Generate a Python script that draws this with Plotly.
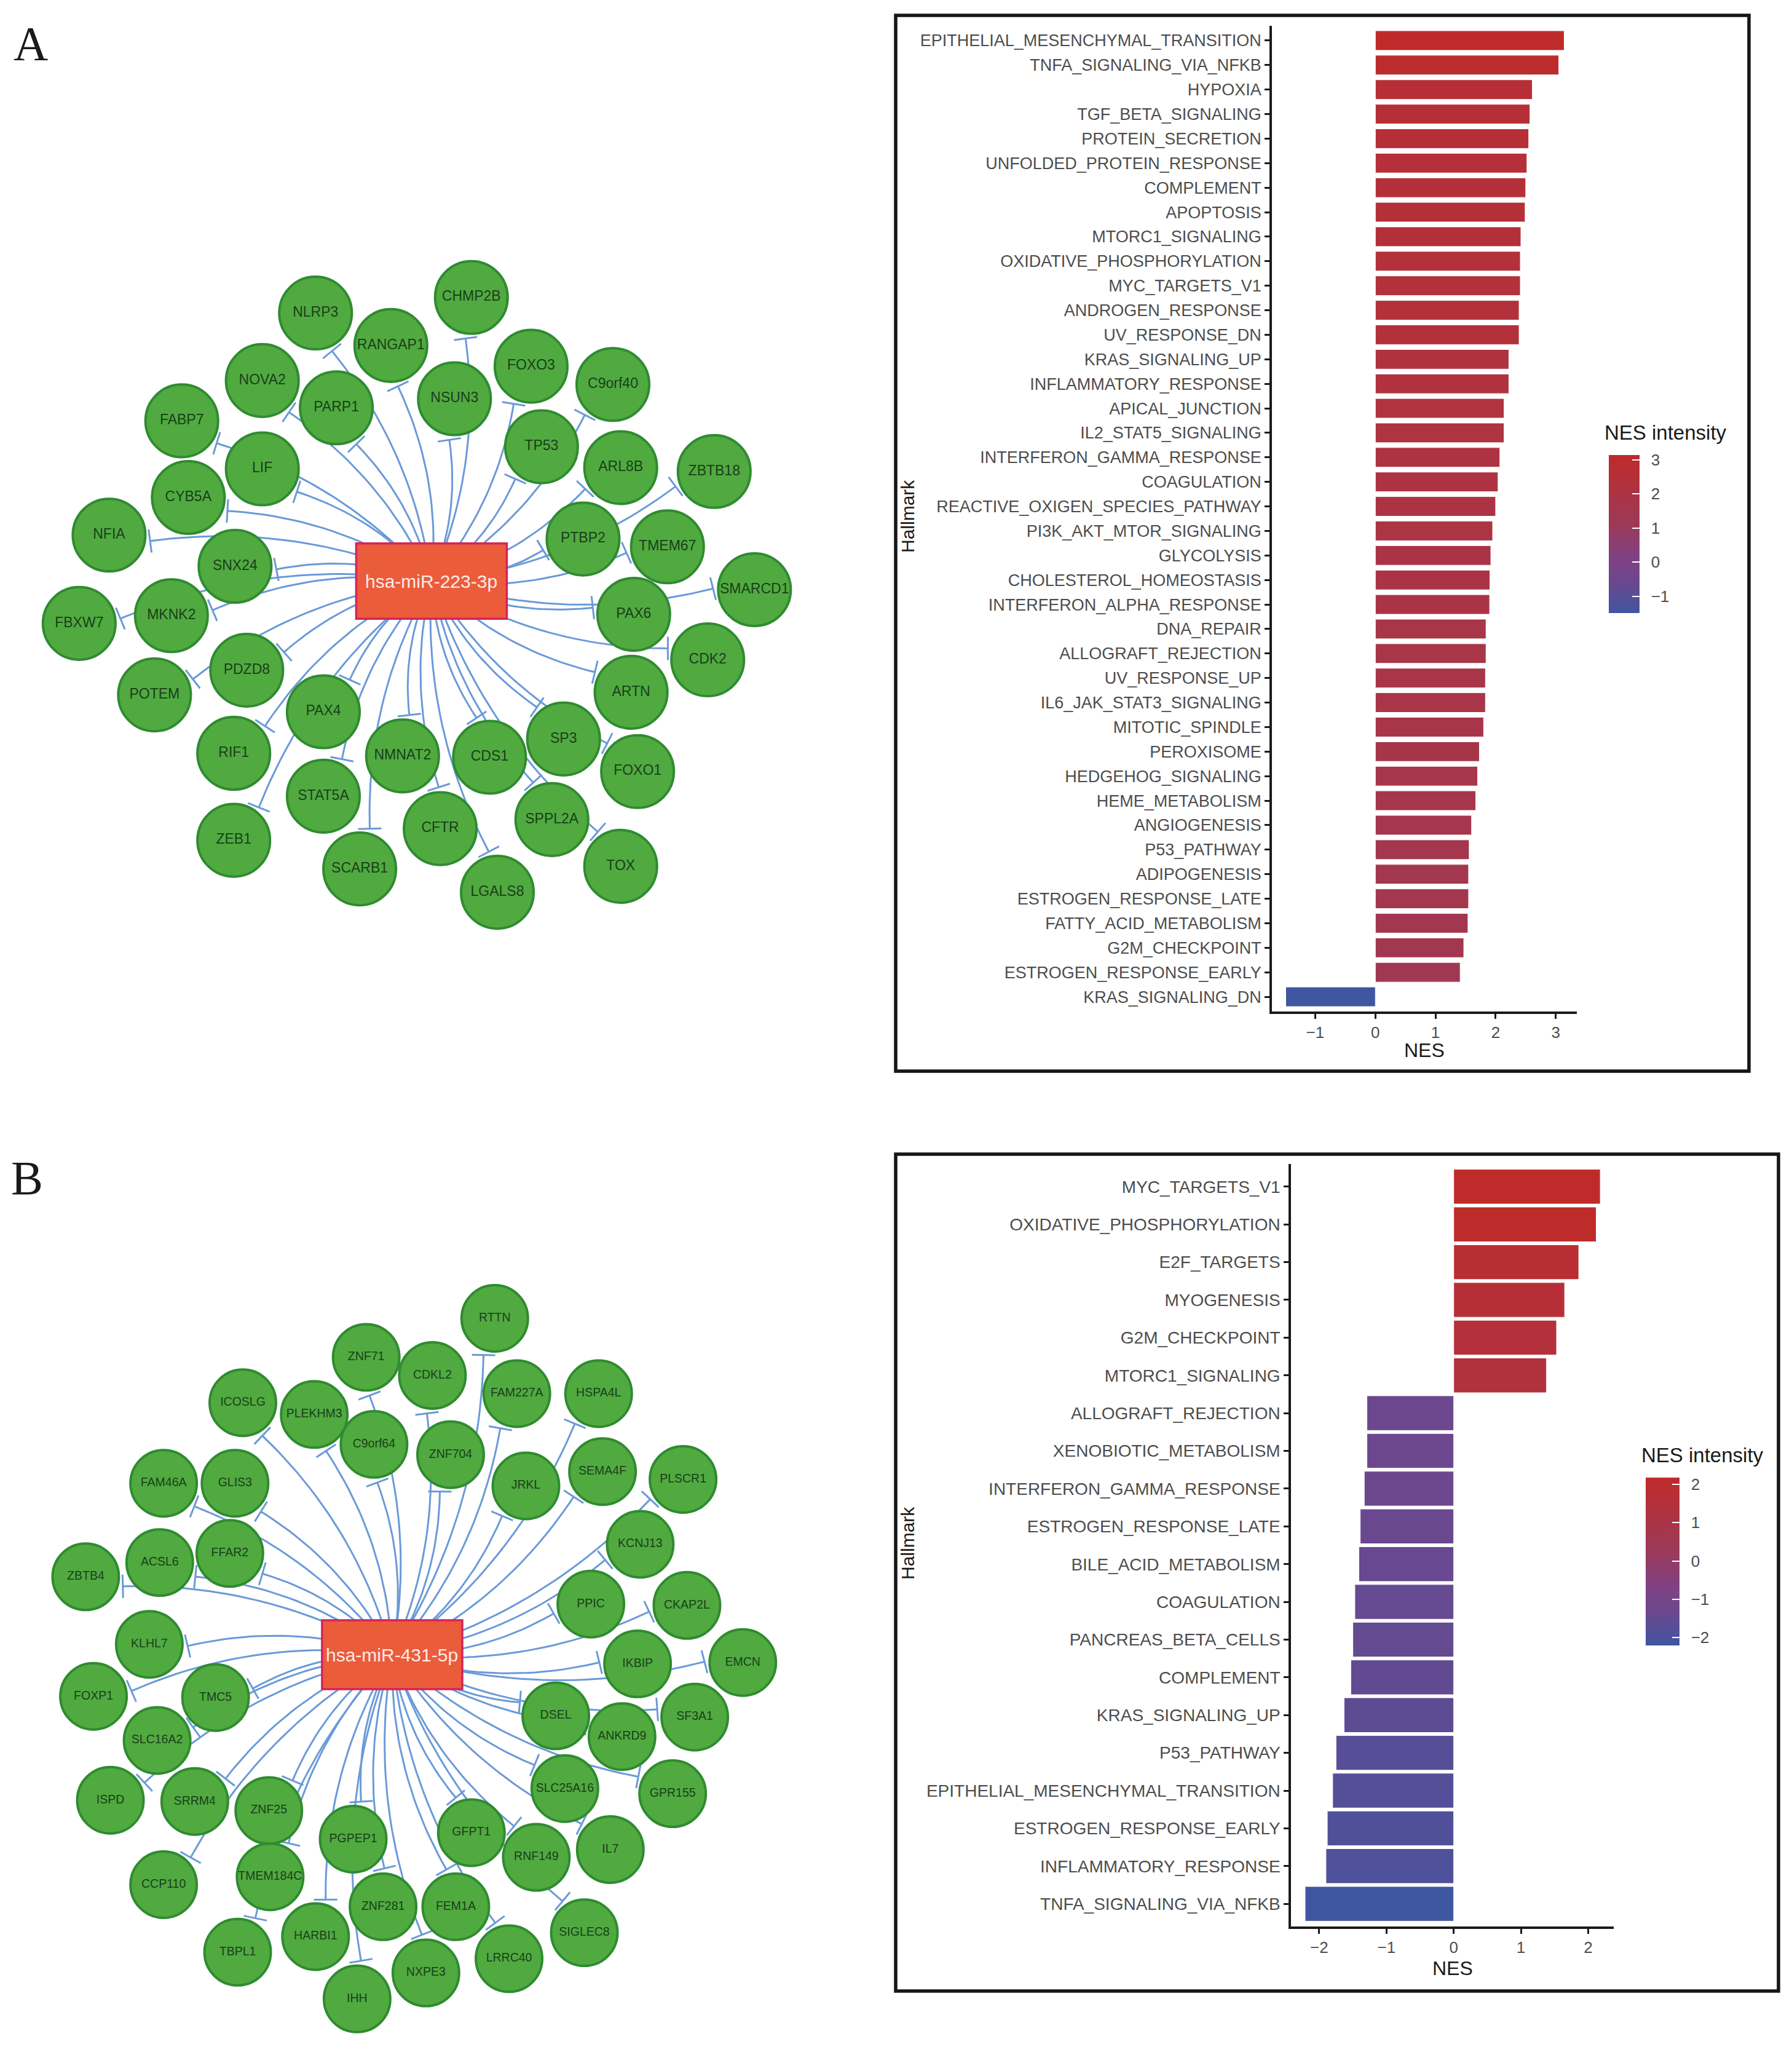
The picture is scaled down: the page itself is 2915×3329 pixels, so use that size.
import numpy as np
import plotly.graph_objects as go

W, H = 2915, 3329
UNIT = W / 1380.0  # network layout units -> pixels

# ── Network A : hsa-miR-223-3p ───────────────────────────
hub_a = "hsa-miR-223-3p"
hub_a_xy = (332.3, 447.4)
genes_a = ["NLRP3", "CHMP2B", "RANGAP1", "FOXO3", "C9orf40", "NOVA2", "PARP1", "NSUN3",
           "FABP7", "TP53", "ARL8B", "ZBTB18", "LIF", "CYB5A", "NFIA", "SNX24", "PTBP2",
           "TMEM67", "SMARCD1", "FBXW7", "MKNK2", "PAX6", "CDK2", "PDZD8", "POTEM", "ARTN",
           "PAX4", "RIF1", "NMNAT2", "CDS1", "SP3", "FOXO1", "STAT5A", "CFTR", "SPPL2A",
           "ZEB1", "SCARB1", "LGALS8", "TOX"]
gx_a = [243, 363, 301, 409, 472, 202, 259, 350, 140, 417, 478, 550, 202, 145, 84, 181, 449,
        514, 581, 61, 132, 488, 545, 190, 119, 486, 249, 180, 310, 377, 434, 491, 249, 339,
        425, 180, 277, 383, 478]
gy_a = [241, 229, 266, 282, 296, 293, 314, 307, 324, 344, 360, 363, 361, 383, 412, 436, 415,
        421, 454, 480, 474, 473, 508, 516, 535, 533, 548, 580, 582, 583, 569, 594, 613, 638,
        631, 647, 669, 687, 667]

# ── Network B : hsa-miR-431-5p ───────────────────────────
hub_b = "hsa-miR-431-5p"
hub_b_xy = (302.0, 1274.0)
genes_b = ["RTTN", "ZNF71", "CDKL2", "FAM227A", "HSPA4L", "ICOSLG", "PLEKHM3", "C9orf64",
           "ZNF704", "FAM46A", "GLIS3", "JRKL", "SEMA4F", "PLSCR1", "FFAR2", "ACSL6", "ZBTB4",
           "KCNJ13", "PPIC", "CKAP2L", "KLHL7", "EMCN", "IKBIP", "FOXP1", "TMC5", "SF3A1",
           "DSEL", "ANKRD9", "SLC16A2", "ISPD", "SRRM4", "ZNF25", "SLC25A16", "GPR155",
           "PGPEP1", "GFPT1", "RNF149", "IL7", "CCP110", "TMEM184C", "ZNF281", "FEM1A",
           "SIGLEC8", "TBPL1", "HARBI1", "NXPE3", "LRRC40", "IHH"]
gx_b = [381, 282, 333, 398, 461, 187, 242, 288, 347, 126, 181, 405, 464, 526, 177, 123, 66,
        493, 455, 529, 115, 572, 491, 72, 166, 535, 428, 479, 121, 85, 150, 207, 435, 518,
        272, 363, 413, 470, 126, 208, 295, 351, 450, 183, 243, 328, 392, 275]
gy_b = [1015, 1045, 1059, 1073, 1073, 1080, 1089, 1112, 1120, 1142, 1142, 1144, 1133, 1139,
        1196, 1203, 1214, 1189, 1235, 1236, 1266, 1280, 1281, 1306, 1307, 1322, 1321, 1337,
        1340, 1386, 1387, 1394, 1377, 1381, 1416, 1411, 1430, 1424, 1451, 1445, 1468, 1468,
        1488, 1503, 1491, 1519, 1508, 1539]

# ── GSEA hallmark NES, panel A ───────────────────────────
hall_a = ["EPITHELIAL_MESENCHYMAL_TRANSITION", "TNFA_SIGNALING_VIA_NFKB", "HYPOXIA",
          "TGF_BETA_SIGNALING", "PROTEIN_SECRETION", "UNFOLDED_PROTEIN_RESPONSE", "COMPLEMENT",
          "APOPTOSIS", "MTORC1_SIGNALING", "OXIDATIVE_PHOSPHORYLATION", "MYC_TARGETS_V1",
          "ANDROGEN_RESPONSE", "UV_RESPONSE_DN", "KRAS_SIGNALING_UP", "INFLAMMATORY_RESPONSE",
          "APICAL_JUNCTION", "IL2_STAT5_SIGNALING", "INTERFERON_GAMMA_RESPONSE", "COAGULATION",
          "REACTIVE_OXIGEN_SPECIES_PATHWAY", "PI3K_AKT_MTOR_SIGNALING", "GLYCOLYSIS",
          "CHOLESTEROL_HOMEOSTASIS", "INTERFERON_ALPHA_RESPONSE", "DNA_REPAIR",
          "ALLOGRAFT_REJECTION", "UV_RESPONSE_UP", "IL6_JAK_STAT3_SIGNALING", "MITOTIC_SPINDLE",
          "PEROXISOME", "HEDGEHOG_SIGNALING", "HEME_METABOLISM", "ANGIOGENESIS", "P53_PATHWAY",
          "ADIPOGENESIS", "ESTROGEN_RESPONSE_LATE", "FATTY_ACID_METABOLISM", "G2M_CHECKPOINT",
          "ESTROGEN_RESPONSE_EARLY", "KRAS_SIGNALING_DN"]
nes_a = [3.14, 3.05, 2.61, 2.57, 2.55, 2.52, 2.50, 2.49, 2.42, 2.41, 2.41, 2.39, 2.39, 2.22,
         2.22, 2.14, 2.14, 2.07, 2.04, 2.00, 1.95, 1.92, 1.905, 1.90, 1.84, 1.84, 1.83, 1.83,
         1.80, 1.73, 1.70, 1.67, 1.60, 1.56, 1.55, 1.55, 1.54, 1.47, 1.41, -1.49]

# ── GSEA hallmark NES, panel B ───────────────────────────
hall_b = ["MYC_TARGETS_V1", "OXIDATIVE_PHOSPHORYLATION", "E2F_TARGETS", "MYOGENESIS",
          "G2M_CHECKPOINT", "MTORC1_SIGNALING", "ALLOGRAFT_REJECTION", "XENOBIOTIC_METABOLISM",
          "INTERFERON_GAMMA_RESPONSE", "ESTROGEN_RESPONSE_LATE", "BILE_ACID_METABOLISM",
          "COAGULATION", "PANCREAS_BETA_CELLS", "COMPLEMENT", "KRAS_SIGNALING_UP", "P53_PATHWAY",
          "EPITHELIAL_MESENCHYMAL_TRANSITION", "ESTROGEN_RESPONSE_EARLY", "INFLAMMATORY_RESPONSE",
          "TNFA_SIGNALING_VIA_NFKB"]
nes_b = [2.18, 2.12, 1.86, 1.65, 1.53, 1.38, -1.29, -1.29, -1.33, -1.39, -1.41, -1.47, -1.50,
         -1.53, -1.63, -1.75, -1.80, -1.88, -1.90, -2.21]

ticks_a = [-1, 0, 1, 2, 3]
ticks_b = [-2, -1, 0, 1, 2]

# ── styles ───────────────────────────────────────────────
EDGE = "#6A9AD8"
NODE_FILL = "#50AA40"
NODE_LINE = "#2F8B30"
NES_SCALE = [[0.0, "#3F56A0"], [0.2, "#6C478E"], [0.35, "#7F4183"], [0.55, "#9A3A5A"],
             [0.8, "#B0323F"], [1.0, "#BE2B2A"]]
SANS = "Liberation Sans, Arial, sans-serif"

fig = go.Figure()


def px_x(p):
    return p / W


def px_y(p):
    return 1 - p / H


def add_network(hub_xy, xs, ys, labels, radius, font_size):
    cx, cy = hub_xy
    ex, ey = [], []
    for x, y in zip(xs, ys):
        dx, dy = x - cx, y - cy
        L = np.hypot(dx, dy)
        ux, uy = dx / L, dy / L
        # end just outside the target circle
        endx, endy = x - ux * (radius + 3), y - uy * (radius + 3)
        Le = np.hypot(endx - cx, endy - cy)
        ctrlx = (cx + endx) / 2 - uy * 0.14 * Le
        ctrly = (cy + endy) / 2 + ux * 0.14 * Le
        t = np.linspace(0, 1, 30)
        bx = (1 - t) ** 2 * cx + 2 * (1 - t) * t * ctrlx + t ** 2 * endx
        by = (1 - t) ** 2 * cy + 2 * (1 - t) * t * ctrly + t ** 2 * endy
        ex += list(bx) + [None]
        ey += list(by) + [None]
        # inhibition T-bar, perpendicular to the final tangent
        tx, ty = endx - ctrlx, endy - ctrly
        tl = np.hypot(tx, ty)
        px_, py_ = -ty / tl, tx / tl
        half = 9.0
        ex += [endx - px_ * half, endx + px_ * half, None]
        ey += [endy - py_ * half, endy + py_ * half, None]
    fig.add_trace(go.Scatter(x=ex, y=ey, mode="lines", line=dict(color=EDGE, width=3),
                             hoverinfo="skip", showlegend=False, xaxis="x", yaxis="y"))
    fig.add_trace(go.Scatter(
        x=xs, y=ys, mode="markers+text", text=labels, textposition="middle center",
        textfont=dict(family=SANS, size=font_size, color="#1A3F1A"),
        marker=dict(size=2 * radius * UNIT - 4, color=NODE_FILL,
                    line=dict(color=NODE_LINE, width=4)),
        hoverinfo="text", showlegend=False, xaxis="x", yaxis="y"))


add_network(hub_a_xy, gx_a, gy_a, genes_a, 28.9, 23)
add_network(hub_b_xy, gx_b, gy_b, genes_b, 26.5, 19.5)

shapes = []
annotations = []
for (hx, hy), name, hw, hh in [(hub_a_xy, hub_a, 58, 29), (hub_b_xy, hub_b, 54, 26.5)]:
    shapes.append(dict(type="rect", xref="x", yref="y", x0=hx - hw, x1=hx + hw,
                       y0=hy - hh, y1=hy + hh, fillcolor="#EB5C3B",
                       line=dict(color="#D6245A", width=3.5), layer="above"))
    annotations.append(dict(x=hx, y=hy, xref="x", yref="y", text=name, showarrow=False,
                            font=dict(family=SANS, size=30, color="#FDEBE6")))


# ── bar charts ───────────────────────────────────────────
def add_bars(cats, vals, ax, ticks, bar_w, cb_x, cb_top, cb_len, cb_thick):
    labels = ["\u2002" + str(v).replace("-", "\u2212") for v in ticks]
    fig.add_trace(go.Bar(
        x=vals, y=cats, orientation="h", xaxis="x" + ax, yaxis="y" + ax, width=bar_w,
        marker=dict(color=vals, colorscale=NES_SCALE, cmin=min(vals), cmax=max(vals),
                    line=dict(color="white", width=1),
                    colorbar=dict(x=px_x(cb_x), xanchor="left", y=px_y(cb_top), yanchor="top",
                                  len=cb_len, lenmode="pixels", thickness=cb_thick,
                                  tickvals=ticks, ticktext=labels, ticks="inside", ticklen=12,
                                  tickcolor="white", tickwidth=2, outlinewidth=0,
                                  xpad=0, ypad=0,
                                  tickfont=dict(family=SANS, size=26, color="#4D4D4D"))),
        showlegend=False, hovertemplate="%{y}: %{x}<extra></extra>"))


add_bars(hall_a, nes_a, "2", ticks_a, 0.8, 2617, 740, 257, 50)
add_bars(hall_b, nes_b, "3", ticks_b, 0.92, 2677, 2403, 273, 55)

axis_common = dict(showline=True, linecolor="#1A1A1A", linewidth=3.5, ticks="outside",
                   ticklen=8, tickwidth=3, tickcolor="#1A1A1A", showgrid=False,
                   zeroline=False, tickfont=dict(family=SANS, size=26, color="#4D4D4D"))

layout_axes = dict(
    xaxis=dict(domain=[0, 1], range=[0, 1380], visible=False),
    yaxis=dict(domain=[0, 1], range=[1576, 0], visible=False),
    xaxis2=dict(domain=[px_x(2069), px_x(2565)], range=[-1.72, 3.35], anchor="y2",
                tickvals=ticks_a, **axis_common),
    yaxis2=dict(domain=[px_y(1645), px_y(42)], anchor="x2", type="category",
                categoryorder="array", categoryarray=hall_a,
                range=[len(hall_a) - 0.4, -0.6],
                **{**axis_common, "tickfont": dict(family=SANS, size=27, color="#4D4D4D")}),
    xaxis3=dict(domain=[px_x(2100), px_x(2625)], range=[-2.42, 2.38], anchor="y3",
                tickvals=ticks_b, **axis_common),
    yaxis3=dict(domain=[px_y(3133), px_y(1893)], anchor="x3", type="category",
                categoryorder="array", categoryarray=hall_b,
                range=[len(hall_b) - 0.4, -0.6],
                **{**axis_common, "tickfont": dict(family=SANS, size=28, color="#4D4D4D")}),
)

# panel frames
for x0, y0, x1, y1 in [(1457, 25, 2845, 1742), (1457, 1877, 2893, 3238)]:
    shapes.append(dict(type="rect", xref="paper", yref="paper", x0=px_x(x0), x1=px_x(x1),
                       y0=px_y(y1), y1=px_y(y0), line=dict(color="#161616", width=5.5),
                       fillcolor="rgba(0,0,0,0)"))

# axis titles, legend titles, panel letters
for x, y, txt, ang, size in [(1476, 840, "Hallmark", -90, 30), (2317, 1708, "NES", 0, 32),
                              (1476, 2510, "Hallmark", -90, 30), (2363, 3201, "NES", 0, 32)]:
    annotations.append(dict(x=px_x(x), y=px_y(y), xref="paper", yref="paper", text=txt,
                            textangle=ang, showarrow=False, xanchor="center", yanchor="middle",
                            font=dict(family=SANS, size=size, color="#1A1A1A")))
for x, y in [(2608, 703), (2668, 2366)]:
    annotations.append(dict(x=px_x(x), y=px_y(y), xref="paper", yref="paper",
                            text="NES intensity", xanchor="left", yanchor="middle",
                            showarrow=False,
                            font=dict(family=SANS, size=33, color="#1A1A1A")))
for x, y, txt in [(50, 70, "A"), (44, 1916, "B")]:
    annotations.append(dict(x=px_x(x), y=px_y(y), xref="paper", yref="paper", text=txt,
                            showarrow=False, xanchor="center", yanchor="middle",
                            font=dict(family="Liberation Serif, Times New Roman, serif",
                                      size=78, color="#1A1A1A")))

fig.update_layout(
    width=W, height=H, margin=dict(l=0, r=0, t=0, b=0),
    paper_bgcolor="white", plot_bgcolor="rgba(0,0,0,0)",
    shapes=shapes, annotations=annotations, **layout_axes)

fig.write_html("out.html", config={"displayModeBar": False},
               post_script="document.body.style.margin = '0';")
